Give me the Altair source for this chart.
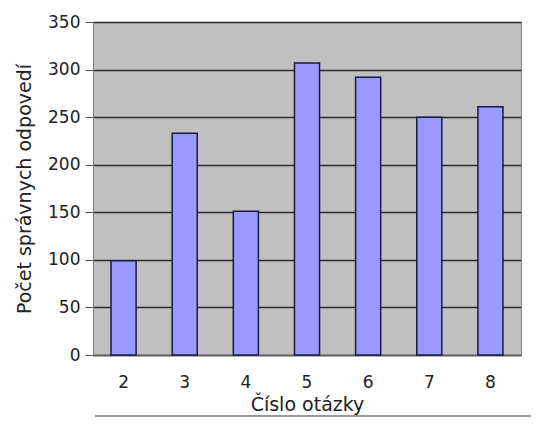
import altair as alt
import pandas as pd

questions = ["2", "3", "4", "5", "6", "7", "8"]
correct = [99, 233, 151, 307, 292, 250, 261]

df = pd.DataFrame({"q": questions, "v": correct})

FONT = "DejaVu Sans"

bars = alt.Chart(df).mark_bar(
    color="#9999FF", stroke="#1a1a40", strokeWidth=1.5
).encode(
    x=alt.X("q:N", sort=questions, title="Číslo otázky",
            scale=alt.Scale(paddingInner=0.59, paddingOuter=0.295),
            axis=alt.Axis(labelAngle=0, labelFontSize=17, titleFontSize=19,
                          labelPadding=19, titlePadding=5, ticks=False,
                          domainColor="#606060", domainWidth=1.5, labelColor="#222",
                          titleColor="#222", labelFont=FONT,
                          titleFont=FONT, titleFontWeight="normal")),
    y=alt.Y("v:Q", title="Počet správnych odpovedí",
            scale=alt.Scale(domain=[0, 350], nice=False),
            axis=alt.Axis(values=[0, 50, 100, 150, 200, 250, 300, 350],
                          labelFontSize=17, titleFontSize=19, tickSize=8,
                          tickColor="#555", domainColor="#808080",
                          gridColor="#2a2a2a", gridWidth=1.4,
                          labelPadding=5, titlePadding=13,
                          labelColor="#222", titleColor="#222",
                          labelFont=FONT, titleFont=FONT,
                          titleFontWeight="normal"))
)

frame = alt.Chart(df).mark_rule(color="#999", strokeWidth=2).encode(
    x=alt.value(2), x2=alt.value(438), y=alt.value(394)
)

chart = alt.layer(bars, frame).properties(
    width=428, height=333,
    autosize=alt.AutoSizeParams(type="none"),
    padding={"left": 85, "top": 14, "right": 10, "bottom": 62},
).configure(
    background="white",
    view=alt.ViewConfig(fill="#C0C0C0", stroke="#808080"),
)

chart.save("out.html", embed_options={"renderer": "svg", "actions": False})
